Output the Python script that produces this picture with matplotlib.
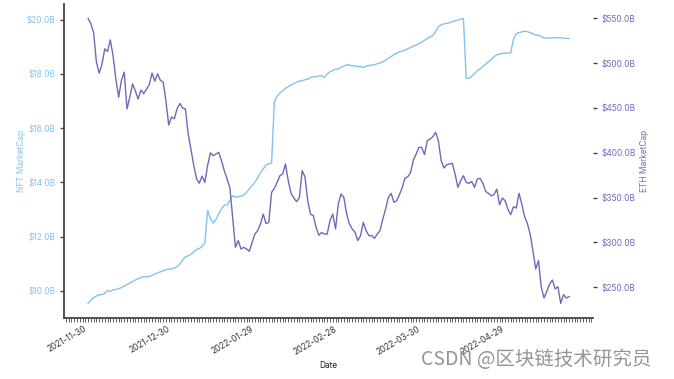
#Recreates the NFT vs ETH market cap chart (daily, 2021-11-30 to 2022-05-22)
# and saves it to out.png

import matplotlib
matplotlib.use('Agg')
import matplotlib.pyplot as plt
import matplotlib.dates as mdates
import matplotlib.ticker as mticker
import pandas as pd

dates = pd.date_range('2021-11-30', '2022-05-22', freq='D')

#NFT market cap in billions of USD (left axis)
nft_cap = [
    9.54, 9.66, 9.75, 9.81, 9.86, 9.86, 9.91, 10.01, 9.98, 10.04,
    10.05, 10.08, 10.12, 10.18, 10.23, 10.29, 10.34, 10.40, 10.45, 10.50,
    10.52, 10.52, 10.53, 10.57, 10.62, 10.67, 10.70, 10.74, 10.78, 10.80,
    10.82, 10.84, 10.89, 10.99, 11.13, 11.26, 11.29, 11.35, 11.44, 11.53,
    11.56, 11.65, 11.77, 12.97, 12.66, 12.50, 12.63, 12.85, 13.03, 13.16,
    13.17, 13.34, 13.51, 13.46, 13.47, 13.49, 13.53, 13.63, 13.76, 13.89,
    14.01, 14.17, 14.35, 14.50, 14.64, 14.69, 14.71, 16.98, 17.18, 17.30,
    17.38, 17.47, 17.53, 17.60, 17.64, 17.70, 17.74, 17.75, 17.79, 17.81,
    17.87, 17.90, 17.90, 17.93, 17.94, 17.87, 18.00, 18.08, 18.13, 18.18,
    18.18, 18.25, 18.29, 18.34, 18.33, 18.30, 18.30, 18.28, 18.27, 18.24,
    18.29, 18.31, 18.33, 18.34, 18.38, 18.41, 18.45, 18.51, 18.58, 18.64,
    18.72, 18.76, 18.82, 18.84, 18.88, 18.93, 18.98, 19.03, 19.07, 19.12,
    19.18, 19.24, 19.31, 19.36, 19.42, 19.56, 19.75, 19.81, 19.85, 19.87,
    19.89, 19.93, 19.96, 19.99, 20.02, 20.05, 17.85, 17.84, 17.92, 18.01,
    18.12, 18.19, 18.28, 18.36, 18.46, 18.53, 18.64, 18.71, 18.74, 18.76,
    18.77, 18.77, 18.78, 19.28, 19.48, 19.53, 19.55, 19.58, 19.56, 19.53,
    19.48, 19.43, 19.43, 19.38, 19.33, 19.32, 19.33, 19.33, 19.34, 19.34,
    19.34, 19.32, 19.31, 19.31,
]

#ETH market cap in billions of USD (right axis)
eth_cap = [
    550, 544, 534, 501, 489, 499, 516, 513, 526, 508,
    482, 462, 481, 490, 449, 462, 477, 469, 460, 470,
    466, 471, 476, 489, 480, 488, 481, 479, 458, 431,
    440, 438, 449, 455, 450, 449, 421, 404, 386, 371,
    366, 374, 367, 386, 400, 396.7, 398.6, 400.5, 391, 380,
    370.7, 361, 328, 294.4, 302, 292.6, 294.4, 292.6, 290, 300,
    309.3, 313, 320.5, 331.6, 321, 322.3, 355.8, 360.3, 367, 374.4,
    376.3, 387.5, 368.8, 354.7, 349.5, 345.4, 350, 380, 373.3, 346.5,
    331.6, 329.8, 316.8, 308, 311, 309.3, 309.3, 324.2, 331.6, 315,
    342.8, 354, 350.2, 331.6, 320.5, 315, 311.2, 302, 307.5, 322.3,
    313, 307.5, 307.5, 304.5, 309.3, 313, 326, 337.2, 350.2, 354.7,
    344.7, 346.5, 353.2, 361.4, 371.8, 373.3, 378.1, 391.9, 398.6, 406,
    406, 397.9, 413.5, 415.3, 418, 422.8, 413.5, 391.2, 383, 386.7,
    387.4, 388.2, 376.3, 361.4, 368.8, 374.4, 367, 365.9, 368, 361.4,
    370.7, 371.4, 365.9, 356.9, 354.7, 352, 353.2, 359.5, 342, 349.5,
    346.5, 337.2, 330.9, 339.8, 338.3, 354.7, 342.8, 328.7, 321.2, 309.3,
    290.7, 270.3, 279.6, 249.8, 237.9, 245.3, 253.5, 258, 248, 250.5,
    231.9, 241.6, 237.9, 239.4,
]

nft_color = '#82c3ee'
eth_color = '#7168ba'
spine_color = '#444444'

plt.rcParams['font.family'] = ['Inter', 'DejaVu Sans']

fig = plt.figure(figsize=(6.74, 3.79), dpi=100)
ax = fig.add_axes([0.095, 0.162, 0.785, 0.827])
ax2 = ax.twinx()

ax.plot(dates, nft_cap, color=nft_color, linewidth=1.0)
ax2.plot(dates, eth_cap, color=eth_color, linewidth=1.0)

#spines: only left and bottom
for a in (ax, ax2):
    for side in ('top', 'right'):
        a.spines[side].set_visible(False)
ax2.spines['left'].set_visible(False)
ax2.spines['bottom'].set_visible(False)
ax.spines['left'].set_color(spine_color)
ax.spines['bottom'].set_color(spine_color)
ax.spines['left'].set_linewidth(1.3)
ax.spines['bottom'].set_linewidth(1.3)

#y axes
ax.set_yticks([10, 12, 14, 16, 18, 20])
ax.yaxis.set_major_formatter(mticker.FuncFormatter(lambda v, p: '${:.1f}B'.format(v)))
ax.tick_params(axis='y', colors=nft_color, labelsize=6, length=3, width=1, pad=3)
ax.tick_params(axis='y', which='both', color=spine_color)
ax.set_ylabel('NFT MarketCap', color=nft_color, fontsize=6, labelpad=1)

ax2.set_yticks([250, 300, 350, 400, 450, 500, 550])
ax2.yaxis.set_major_formatter(mticker.FuncFormatter(lambda v, p: '${:.1f}B'.format(v)))
ax2.tick_params(axis='y', labelcolor=eth_color, color=spine_color, labelsize=6,
                length=3, width=1, pad=3)
ax2.set_ylabel('ETH MarketCap', color=eth_color, fontsize=6, labelpad=3)

#x axis: labels every 30 days, small tick each day
major = pd.date_range('2021-11-30', periods=6, freq='30D')
ax.set_xticks(major)
ax.xaxis.set_major_formatter(mdates.DateFormatter('%Y-%m-%d'))
ax.xaxis.set_minor_locator(mdates.DayLocator())
ax.tick_params(axis='x', which='both', color=spine_color, length=3, width=0.6,
               labelsize=6, labelcolor='#333333', pad=2)
for lbl in ax.get_xticklabels():
    lbl.set_rotation(30)
    lbl.set_ha('right')
ax.set_xlabel('Date', fontsize=6, color='#222222', labelpad=3)

#watermark
fig.text(0.625, 0.052, 'CSDN @区块链技术研究员', fontsize=14, color='#8a8a8a',
         family=['Noto Sans CJK SC', 'DejaVu Sans'], va='center', alpha=0.9)

plt.savefig('out.png', dpi=100)
